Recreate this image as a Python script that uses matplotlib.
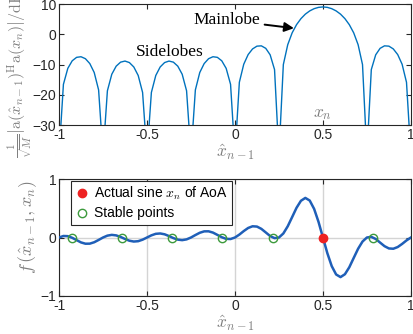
import numpy as np
import matplotlib
matplotlib.use("Agg")
import matplotlib.pyplot as plt

plt.rcParams['font.family'] = ['Liberation Sans', 'DejaVu Sans']
plt.rcParams['mathtext.fontset'] = 'cm'

# x grid (normalized sine of angle), step 0.025 from -1 to 1
x_grid = np.linspace(-1, 1, 81)

# Top: beam pattern in dB (nulls set below axis)
beam_db = [-40, -16.55, -11.27, -8.77, -7.63, -7.43, -8.08, -9.69, -12.64, -18.40,
           -40, -18.68, -13.21, -10.54, -9.22, -8.86, -9.36, -10.81, -13.62, -19.23,
           -40, -19.23, -13.62, -10.81, -9.36, -8.86, -9.22, -10.54, -13.21, -18.68,
           -40, -18.40, -12.64, -9.69, -8.08, -7.43, -7.63, -8.77, -11.27, -16.55,
           -40, -15.87, -9.90, -6.71, -4.85, -3.93, -3.83, -4.65, -6.79, -11.67,
           -40, -10.02, -3.45, 0.46, 3.17, 5.16, 6.65, 7.72, 8.46, 8.89,
           9.03,
           8.89, 8.46, 7.72, 6.65, 5.16, 3.17, 0.46, -3.45, -10.02, -40,
           -11.67, -6.79, -4.65, -3.83, -3.93, -4.85, -6.71, -9.90, -15.87, -40]

# Bottom: f(x_hat, x_n)
f_vals = [0, 0.026, 0.023, -0.005, -0.045, -0.084, -0.106, -0.105, -0.081, -0.042,
          0, 0.032, 0.045, 0.036, 0.010, -0.025, -0.055, -0.069, -0.063, -0.037,
          0, 0.037, 0.063, 0.069, 0.055, 0.025, -0.010, -0.036, -0.045, -0.032,
          0, 0.042, 0.081, 0.105, 0.106, 0.084, 0.045, 0.005, -0.023, -0.026,
          0, 0.050, 0.110, 0.163, 0.192, 0.187, 0.148, 0.087, 0.025, -0.011,
          0, 0.069, 0.192, 0.349, 0.508, 0.628, 0.677, 0.632, 0.489, 0.267,
          0,
          -0.267, -0.489, -0.632, -0.677, -0.628, -0.508, -0.349, -0.192, -0.069, 0,
          0.011, -0.025, -0.087, -0.148, -0.187, -0.192, -0.163, -0.110, -0.050, 0]

actual_x = [0.5]
actual_y = [0.0]
stable_x = [-0.929, -0.643, -0.357, -0.071, 0.214, 0.786]
stable_y = [0, 0, 0, 0, 0, 0]

x_ticks = [-1, -0.5, 0, 0.5, 1]
x_ticklabels = ['-1', '-0.5', '0', '0.5', '1']
top_yticks = [-30, -20, -10, 0, 10]
bot_yticks = [-1, 0, 1]

dark = '#262626'
gray = '#7f7f7f'

W, H = 413, 334
fig = plt.figure(figsize=(W / 100, H / 100), dpi=100)
ax1 = fig.add_axes([0.1429, 0.6257, 0.852, 0.3623])
ax2 = fig.add_axes([0.1429, 0.1138, 0.852, 0.3502])

for ax in (ax1, ax2):
    ax.tick_params(direction='in', length=3.5, width=0.8, colors=dark,
                   labelsize=10, top=True, right=True, pad=2)
    for s in ax.spines.values():
        s.set_color(dark)
        s.set_linewidth(0.8)
    ax.set_xlim(-1, 1)
    ax.set_xticks(x_ticks)
    ax.set_xticklabels(x_ticklabels)

# Top plot
ax1.plot(x_grid, beam_db, color='#0072BD', lw=1.0)
ax1.set_ylim(-30, 10)
ax1.set_yticks(top_yticks)
ax1.set_xlabel(r'$\hat{x}_{n-1}$', color=gray, fontsize=12.5, labelpad=0)
fig.text(35 / W, 1 - 158 / H,
         r'$\frac{1}{\sqrt{M}}\left|\mathrm{a}(\hat{x}_{n-1})^{\mathrm{H}}\mathrm{a}(x_n)\right|/\mathrm{dB}$',
         color=gray, fontsize=11.5, rotation=90, ha='right', va='bottom')
ax1.text(0.5, -26.5, r'$x_n$', color=gray, fontsize=12.5, ha='center', va='center')
ax1.annotate('Mainlobe', xy=(0.335, 2.0), xytext=(0.145, 4.7),
             fontsize=12.5, family='Liberation Serif', ha='right', va='center',
             arrowprops=dict(arrowstyle='-|>', color='black', lw=1.4,
                             mutation_scale=14, shrinkA=1, shrinkB=0))
ax1.text(-0.37, -5.9, 'Sidelobes', fontsize=12.5, family='Liberation Serif',
         ha='center', va='center')

# Bottom plot
ax2.grid(True, color='#d4d4d4', lw=1.0)
ax2.set_axisbelow(True)
ax2.plot(x_grid, f_vals, color='#1F5FB8', lw=1.8, zorder=3)
ax2.plot(actual_x, actual_y, 'o', color='#EE2222', ms=6, zorder=4,
         label=r'Actual sine $x_n$ of AoA')
ax2.plot(stable_x, stable_y, 'o', mfc='none', mec='#3C9A3C', ms=6, mew=1.0,
         zorder=4, label='Stable points')
ax2.set_ylim(-1, 1)
ax2.set_yticks(bot_yticks)
ax2.set_xlabel(r'$\hat{x}_{n-1}$', color=gray, fontsize=12.5, labelpad=0)
fig.text(39 / W, 1 - 227 / H, r'$f\,(\hat{x}_{n-1},x_n)$', color=gray,
         fontsize=13, rotation=90, ha='right', va='center')
leg = ax2.legend(loc='upper left', bbox_to_anchor=(0.035, 0.985), fontsize=10,
                 frameon=True, fancybox=False, edgecolor=dark, framealpha=1,
                 handletextpad=0.3, handlelength=1.0, borderpad=0.3,
                 labelspacing=0.3, borderaxespad=0)
leg.get_frame().set_linewidth(0.8)

fig.savefig('out.png', dpi=100)
